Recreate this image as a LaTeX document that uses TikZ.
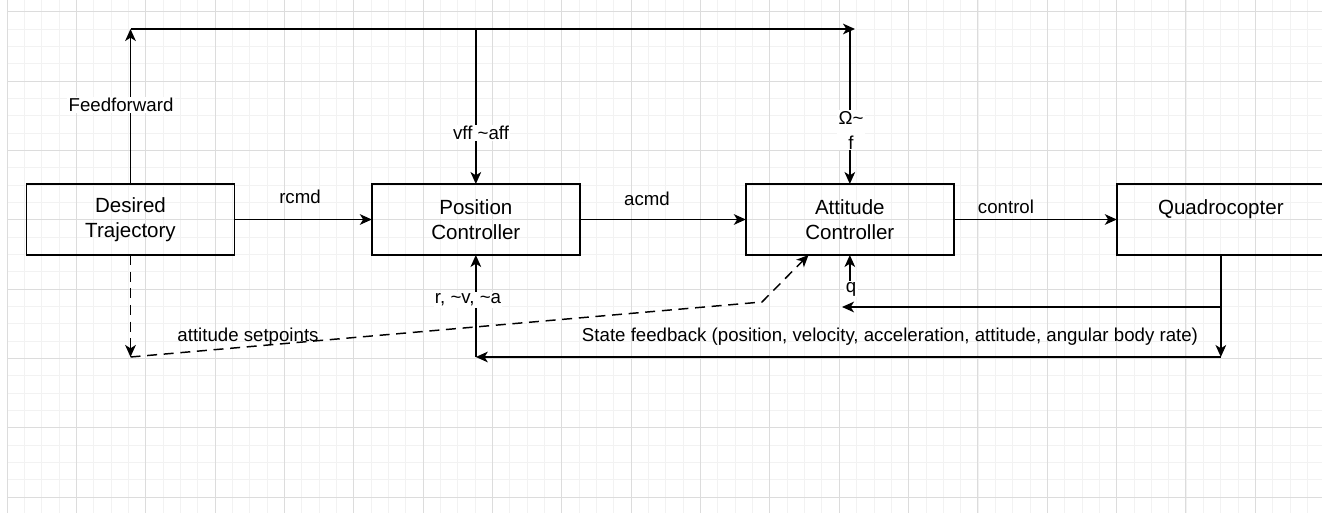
\documentclass[tikz,border=0pt]{standalone}
\usepackage{fontspec}
\setmainfont{Liberation Sans}
\definecolor{gridMinor}{RGB}{242,242,242}
\definecolor{gridMajor}{RGB}{220,220,220}
\usetikzlibrary{arrows.meta,positioning}

\begin{document}
\begin{tikzpicture}[x=0.75pt, y=-0.75pt,
  box/.style={draw, line width=1.1pt, minimum width=156pt, minimum height=53.25pt,
              inner sep=0pt, outer sep=0pt, align=center,
              font=\fontsize{15.4}{18.5}\selectfont},
  lbl/.style={inner sep=1pt, align=center, font=\fontsize{14}{18.75}\selectfont},
  lblw/.style={lbl, fill=white},
  arr/.style={-{Stealth[length=9pt, width=8pt, inset=2.5pt]}, line width=1.1pt},
  dsh/.style={dash pattern=on 7.5pt off 5pt}
]
  \useasboundingbox (0,0) rectangle (1322,513);
  \clip (0,0) rectangle (1322,513);

  % paper grid
  \foreach \k in {0,...,76}
    \draw[gridMinor, line width=0.75pt] ({7+17.34*\k},0) -- ({7+17.34*\k},513);
  \foreach \k in {0,...,30}
    \draw[gridMinor, line width=0.75pt] (7,{-5.64+17.34*\k}) -- (1322,{-5.64+17.34*\k});
  \foreach \k in {0,...,19}
    \draw[gridMajor, line width=0.75pt] ({7+69.35*\k},0) -- ({7+69.35*\k},513);
  \foreach \k in {0,...,7}
    \draw[gridMajor, line width=0.75pt] (7,{11.7+69.35*\k}) -- (1322,{11.7+69.35*\k});

  % blocks
  \node[box] (traj) at (130.5,219.5) {Desired\\Trajectory};
  \node[box, right=103pt of traj] (pos) {Position\\Controller};
  \node[box, right=124.5pt of pos] (att) {Attitude\\Controller};
  \node[box, right=122.25pt of att] (quad) {Quadrocopter\\\mbox{}};

  \coordinate (ffc) at (130.5,29);
  \coordinate (ffe) at (855,29);
  \coordinate (ffp) at (pos.north |- ffc);
  \coordinate (ffa) at (att.north |- ffc);
  \coordinate (spc) at (130.5,357);
  \coordinate (spb) at (762,302);
  \coordinate (sfc) at (quad.south |- spc);
  \coordinate (sfp) at (pos.south |- spc);
  \coordinate (qc) at (quad.south |- 0,307);
  \coordinate (qe) at (842,307);
  \coordinate (qs) at (att.south |- 0,296);

  % feedforward
  \draw[arr] (traj.north) -- (ffc);
  \draw[arr] (ffc) -- (ffe);
  \draw[arr] (ffp) -- (pos.north);
  \draw[arr] (ffa) -- (att.north);

  % forward path
  \draw[arr] (traj) -- (pos);
  \draw[arr] (pos) -- (att);
  \draw[arr] (att) -- (quad);

  % attitude setpoints
  \draw[arr, dsh] (traj.south) -- (spc);
  \draw[arr, dsh] (spc) -- (spb) -- ([xshift=-31pt]att.south);

  % state feedback
  \draw[arr] (quad.south) -- (sfc);
  \draw[arr] (sfc) -- (sfp);
  \draw[arr] (sfp) -- (pos.south);
  \draw[arr] (qc) -- (qe);
  \draw[arr] (qs) -- (att.south);

  % labels
  \node[lblw] (fflbl) at (121,105) {Feedforward};
  \node[lblw] (vfflbl) at (481,133) {vff \textasciitilde aff};
  \node[lblw] (omlbl) at (851,130) {Ω\textasciitilde\\f};
  \node[lbl] (rcmdlbl) at (300,197) {rcmd};
  \node[lbl] (acmdlbl) at (647,199) {acmd};
  \node[lbl] (ctrllbl) at (1006,207) {control};
  \node[lblw] (rvalbl) at (468,300) {r, \textasciitilde v, \textasciitilde a};
  \node[lblw] (qlbl) at (851,289) {q};
  \node[lbl] (splbl) at (248,337) {attitude setpoints};
  \node[lbl] (sflbl) at (890,337) {State feedback (position, velocity, acceleration, attitude, angular body rate)};
\end{tikzpicture}
\end{document}
